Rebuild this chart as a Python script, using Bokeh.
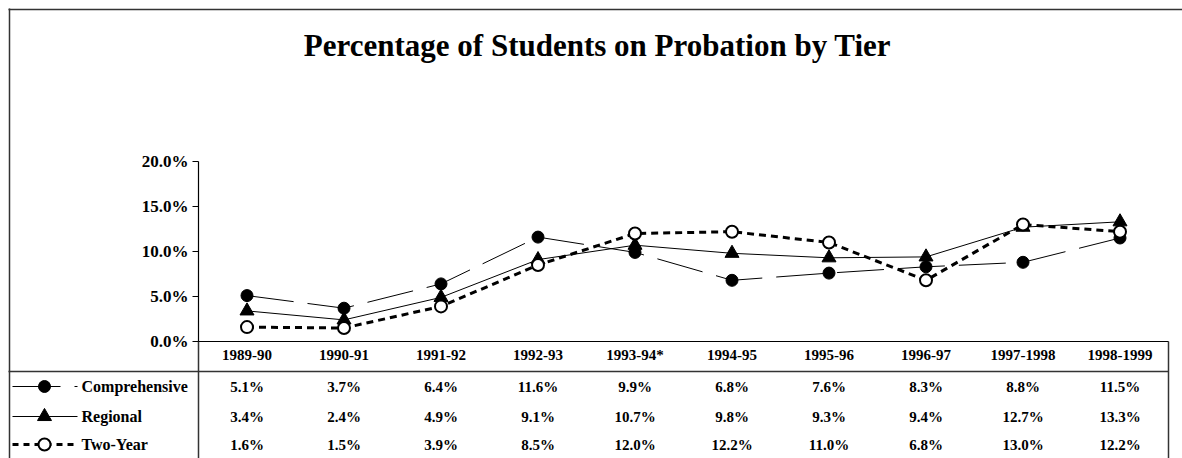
from bokeh.plotting import figure
from bokeh.models import Range1d, LinearAxis, FixedTicker, PrintfTickFormatter, ColumnDataSource
from bokeh.core.properties import value
from bokeh.embed import file_html
from bokeh.resources import INLINE

# ---------------- data ----------------
categories = ["1989-90", "1990-91", "1991-92", "1992-93", "1993-94*",
              "1994-95", "1995-96", "1996-97", "1997-1998", "1998-1999"]
comprehensive = [5.1, 3.7, 6.4, 11.6, 9.9, 6.8, 7.6, 8.3, 8.8, 11.5]
regional = [3.4, 2.4, 4.9, 9.1, 10.7, 9.8, 9.3, 9.4, 12.7, 13.3]
two_year = [1.6, 1.5, 3.9, 8.5, 12.0, 12.2, 11.0, 6.8, 13.0, 12.2]
series_names = ["Comprehensive", "Regional", "Two-Year"]
y_ticks = [0, 5, 10, 15, 20]
title_text = "Percentage of Students on Probation by Tier"

# ---------------- layout helpers (pixels -> data units) ----------------
W, H = 1182, 458
PLOT_L, PLOT_R = 198, 1168      # plot area, pixels
Y0, Y20 = 341, 161              # pixel rows of 0% and 20%
cat_px = (PLOT_R - PLOT_L) / len(categories)
pct_px = (Y0 - Y20) / 20.0


def fx(px):
    return (px - PLOT_L) / cat_px - 0.5


def fy(py):
    return (Y0 - py) / pct_px


FONT = value("Liberation Serif")

p = figure(width=W, height=H, output_backend="svg", toolbar_location=None,
           x_range=Range1d(fx(0), fx(W)), y_range=Range1d(fy(H), fy(0)),
           x_axis_location=None, y_axis_location=None, min_border=0,
           tools="")
p.outline_line_color = None
p.grid.visible = False
p.background_fill_color = "white"
p.border_fill_color = "white"

# ---------------- axes ----------------
n = len(categories)
xaxis = LinearAxis(fixed_location=0, bounds=(-0.5, n - 0.5),
                   ticker=FixedTicker(ticks=list(range(n))),
                   major_label_overrides={i: c for i, c in enumerate(categories)})
xaxis.major_tick_line_color = None
xaxis.minor_tick_line_color = None
xaxis.major_tick_out = 0
xaxis.major_tick_in = 0
xaxis.major_label_standoff = 5
xaxis.axis_line_color = "black"
xaxis.axis_line_width = 1.2
xaxis.major_label_text_font = "Liberation Serif"
xaxis.major_label_text_font_style = "bold"
xaxis.major_label_text_font_size = "15px"
xaxis.major_label_text_color = "black"
p.add_layout(xaxis, "below")

yaxis = LinearAxis(fixed_location=-0.5, bounds=(0, 20),
                   ticker=FixedTicker(ticks=y_ticks),
                   formatter=PrintfTickFormatter(format="%.1f%%"))
yaxis.minor_tick_line_color = None
yaxis.major_tick_out = 6
yaxis.major_tick_in = 0
yaxis.major_label_standoff = 4
yaxis.axis_line_color = "black"
yaxis.axis_line_width = 1.2
yaxis.major_tick_line_color = "black"
yaxis.major_label_text_font = "Liberation Serif"
yaxis.major_label_text_font_style = "bold"
yaxis.major_label_text_font_size = "17px"
yaxis.major_label_text_color = "black"
p.add_layout(yaxis, "left")

# ---------------- frame / table lines ----------------
line_col = "#333333"
xs0 = [fx(9), fx(8), fx(8), -0.5, n - 0.5]
xs1 = [fx(9), fx(W), n - 0.5, -0.5, n - 0.5]
ys0 = [fy(H), fy(9), fy(371), 0, 0]
ys1 = [fy(8), fy(9), fy(371), fy(H), fy(H)]
p.segment(x0=xs0, y0=ys0, x1=xs1, y1=ys1, line_color=line_col, line_width=1.5)

# ---------------- title ----------------
p.text(x=[fx(597)], y=[fy(45)], text=[title_text], text_font=FONT,
       text_font_style="bold", text_font_size="31px", text_align="center",
       text_baseline="middle", text_color="black")

# ---------------- series ----------------
xi = list(range(n))
src = ColumnDataSource(dict(x=xi, comp=comprehensive, reg=regional, two=two_year))

p.line("x", "comp", source=src, line_color="black", line_width=1, line_dash="47 14")
p.scatter("x", "comp", source=src, marker="circle", size=12,
          fill_color="black", line_color="black")

p.line("x", "reg", source=src, line_color="black", line_width=1)
p.scatter("x", "reg", source=src, marker="triangle", size=14,
          fill_color="black", line_color="black")

p.line("x", "two", source=src, line_color="black", line_width=3, line_dash="7 5")
p.scatter("x", "two", source=src, marker="circle", size=12,
          fill_color="white", line_color="black", line_width=2)

# ---------------- data table ----------------
row_y = [fy(386), fy(416), fy(444)]
all_series = [comprehensive, regional, two_year]
tx, ty, tt = [], [], []
for r, vals in enumerate(all_series):
    for i, v in enumerate(vals):
        tx.append(i)
        ty.append(row_y[r])
        tt.append(f"{v:.1f}%")
p.text(x=tx, y=ty, text=tt, text_font=FONT, text_font_style="bold",
       text_font_size="15px", text_align="center", text_baseline="middle",
       text_color="black")

# legend keys in the table header column
p.text(x=[fx(81)] * 3, y=row_y, text=series_names, text_font=FONT,
       text_font_style="bold", text_font_size="16px", text_align="left",
       text_baseline="middle", text_color="black")
p.segment(x0=[fx(12), fx(74), fx(12)], y0=[row_y[0], row_y[0], row_y[1]],
          x1=[fx(60), fx(77), fx(77)], y1=[row_y[0], row_y[0], row_y[1]],
          line_color="black", line_width=1)
p.segment(x0=[fx(12)], y0=[row_y[2]], x1=[fx(78)], y1=[row_y[2]],
          line_color="black", line_width=3, line_dash="6 5")
p.scatter(x=[fx(44)], y=[row_y[0]], marker="circle", size=12,
          fill_color="black", line_color="black")
p.scatter(x=[fx(44)], y=[row_y[1]], marker="triangle", size=14,
          fill_color="black", line_color="black")
p.scatter(x=[fx(44)], y=[row_y[2]], marker="circle", size=12,
          fill_color="white", line_color="black", line_width=2)

open("out.html", "w").write(file_html(p, INLINE))
